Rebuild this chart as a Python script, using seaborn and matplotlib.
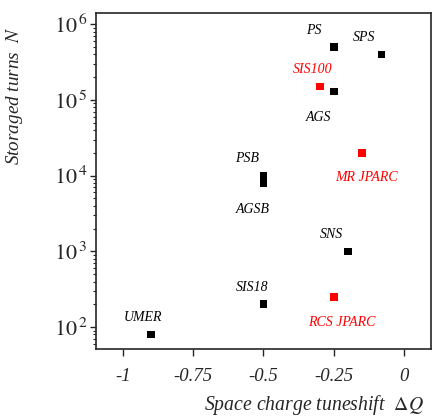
import numpy as np
import pandas as pd
import matplotlib
matplotlib.use("Agg")
import matplotlib.pyplot as plt
import seaborn as sns
from matplotlib.ticker import FixedLocator, LogLocator, NullFormatter, FuncFormatter

# ---- data ----
names = ["PS", "SPS", "SIS100", "AGS", "MR JPARC", "PSB", "AGSB", "SNS", "SIS18", "RCS JPARC", "UMER"]
tuneshift = [-0.25, -0.08, -0.30, -0.25, -0.15, -0.50, -0.50, -0.20, -0.50, -0.25, -0.90]
turns = [5.0e5, 4.0e5, 1.5e5, 1.3e5, 2.0e4, 1.0e4, 8.0e3, 1.0e3, 2.0e2, 2.5e2, 8.0e1]
group = ["existing", "existing", "planned", "existing", "planned", "existing", "existing",
         "existing", "existing", "planned", "existing"]
xticks = [-1, -0.75, -0.5, -0.25, 0]
xticklabels = ["-1", "-0.75", "-0.5", "-0.25", "0"]

df = pd.DataFrame({"name": names, "dQ": tuneshift, "N": turns, "group": group})

sns.set_style("ticks")
plt.rcParams["font.family"] = ["Liberation Serif", "DejaVu Serif"]
plt.rcParams["mathtext.fontset"] = "stix"

fig = plt.figure(figsize=(4.33, 4.18), dpi=100)
ax = fig.add_axes([0.2217, 0.165, 0.773, 0.804])

palette = {"existing": "black", "planned": "red"}
sns.scatterplot(data=df, x="dQ", y="N", hue="group", palette=palette, marker="s",
                s=30, linewidth=0, legend=False, ax=ax)
ax.set_yscale("log")
ax.set_xlim(-1.096, 0.095)
ax.set_ylim(10**1.71, 10**6.15)

# label offsets in pixels (dx, dy) ; dy positive = up
offsets = {"PS": (-20, 17), "SPS": (-17, 17), "SIS100": (-7, 17), "AGS": (-15, -26),
           "MR JPARC": (5, -25), "PSB": (-16, 17), "AGSB": (-11, -26), "SNS": (-16, 17),
           "SIS18": (-11, 17), "RCS JPARC": (8, -26), "UMER": (-8, 17)}
for _, r in df.iterrows():
    dx, dy = offsets[r["name"]]
    ax.annotate(r["name"], (r["dQ"], r["N"]), xytext=(dx * 0.72, dy * 0.72),
                textcoords="offset points", ha="center", va="center",
                fontsize=10, style="italic", color=palette[r["group"]])

ax.xaxis.set_major_locator(FixedLocator(xticks))
ax.set_xticklabels(xticklabels, fontsize=13.5, style="italic")
ax.yaxis.set_major_locator(LogLocator(base=10, numticks=10))
ax.yaxis.set_minor_locator(LogLocator(base=10, subs=np.arange(2, 10), numticks=20))
ax.yaxis.set_minor_formatter(NullFormatter())
ax.yaxis.set_major_formatter(FuncFormatter(
    lambda v, p: r"$\mathit{10}^{\,\mathit{%d}}$" % round(np.log10(v))))

ax.tick_params(axis="x", which="major", direction="out", length=5, width=1, pad=9,
               bottom=True, top=False)
ax.tick_params(axis="y", which="major", direction="out", length=4.5, width=1, pad=1.5,
               left=True, right=False, labelsize=16)
ax.tick_params(axis="y", which="minor", direction="out", length=2.5, width=0.8,
               left=True, right=False)
for s in ax.spines.values():
    s.set_linewidth(1.2)
    s.set_visible(True)

ax.set_xlabel(r"Space charge tuneshift  $\mathrm{\Delta}\mathit{Q}$", fontsize=14.2, style="italic")
ax.set_ylabel(r"Storaged turns  $\mathit{N}$", fontsize=13.8, style="italic")
ax.xaxis.set_label_coords(0.65, -0.132)
ax.yaxis.set_label_coords(-0.212, 0.755)

fig.savefig("out.png", dpi=100)
